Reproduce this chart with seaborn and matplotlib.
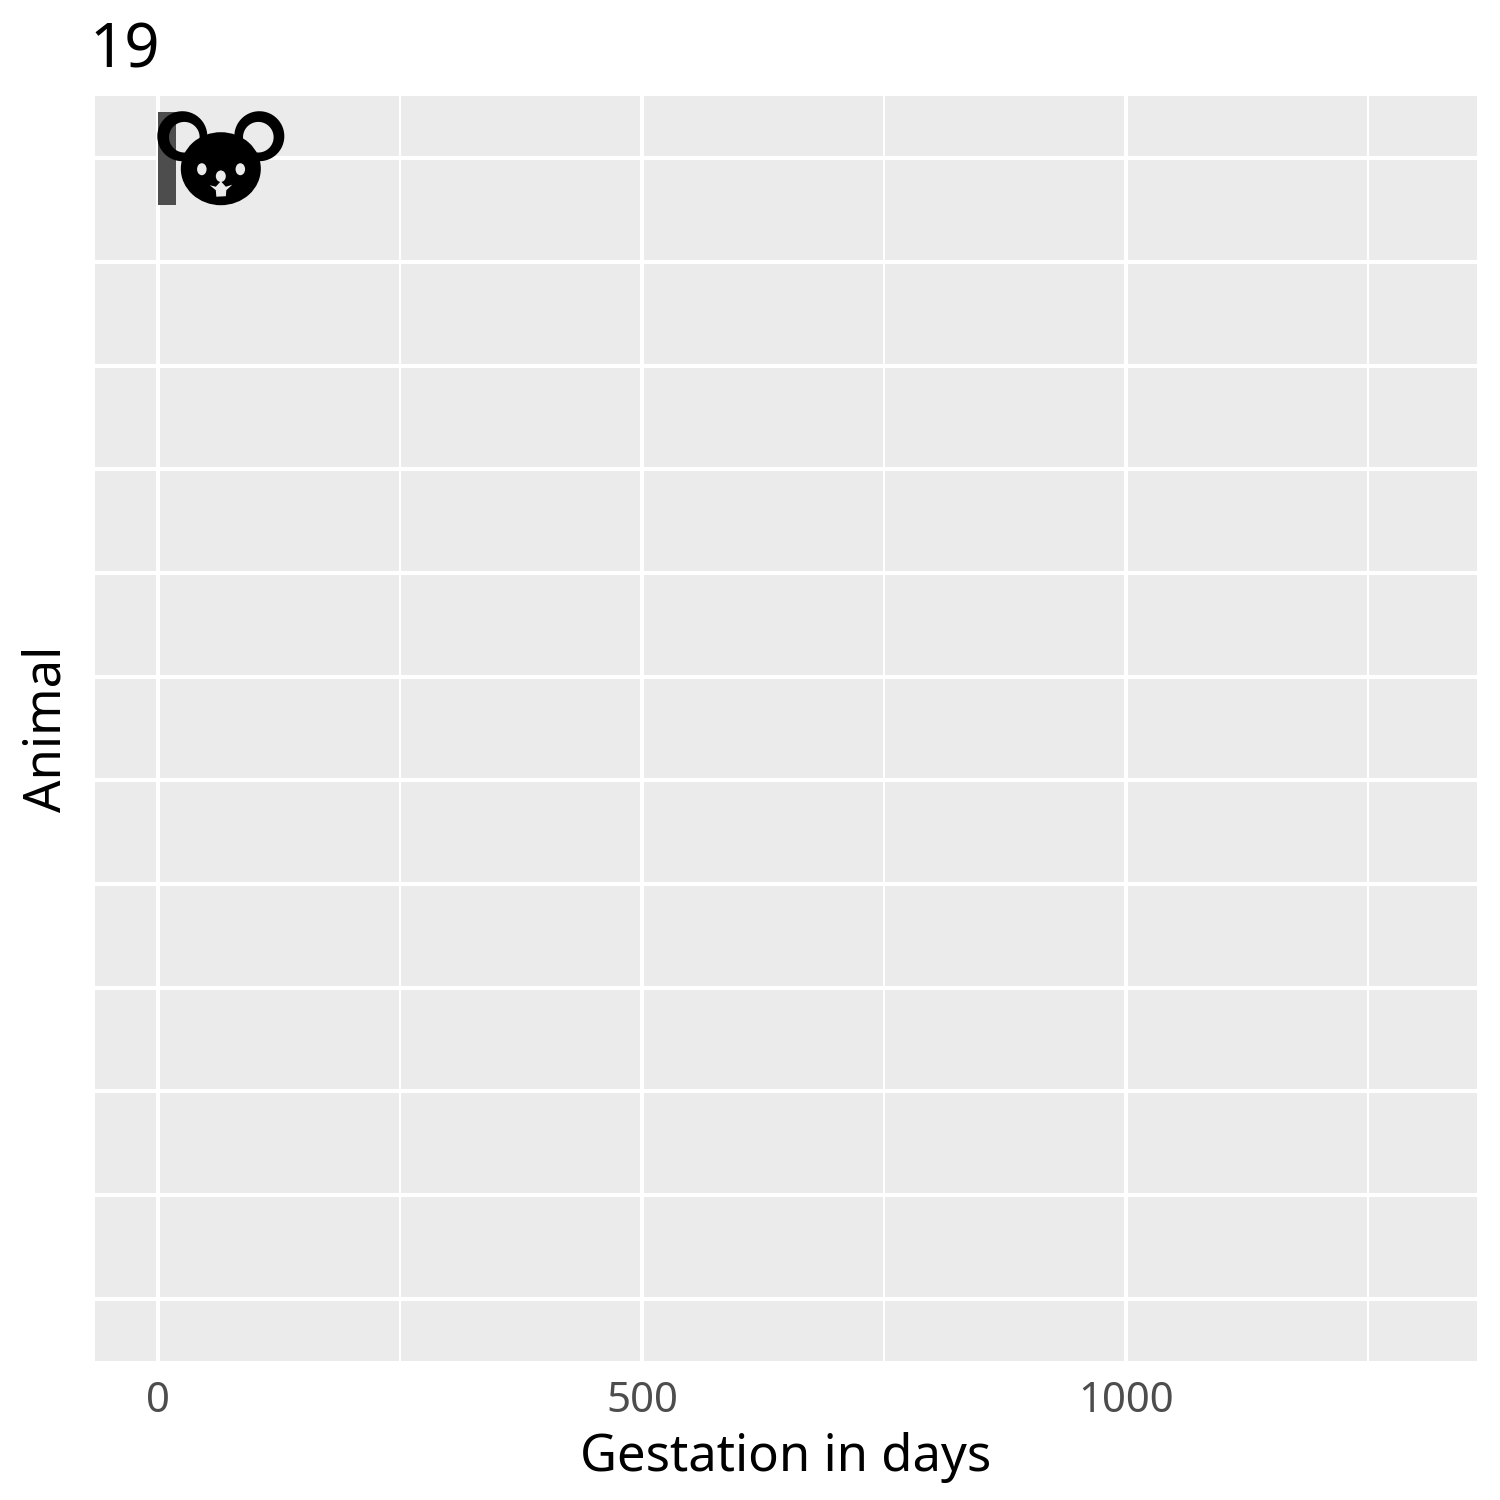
import numpy as np
import pandas as pd
import matplotlib.pyplot as plt
import seaborn as sns
from matplotlib.patches import Ellipse, PathPatch, Polygon
from matplotlib.path import Path
from matplotlib.transforms import Affine2D

# only the first animal has reached its frame, the other rows are still empty
animals = ['mouse', 'animal 2', 'animal 3', 'animal 4', 'animal 5', 'animal 6',
           'animal 7', 'animal 8', 'animal 9', 'animal 10', 'animal 11', 'animal 12']
gestation = [19, np.nan, np.nan, np.nan, np.nan, np.nan,
             np.nan, np.nan, np.nan, np.nan, np.nan, np.nan]
frame_label = '19'
major_ticks = [0, 500, 1000]
minor_ticks = [250, 750, 1250]

sns.set_theme(style='darkgrid')
plt.rcParams['font.family'] = ['Noto Sans', 'DejaVu Sans']

df = pd.DataFrame({'animal': animals, 'gestation': gestation})
panel = '#ebebeb'


# ring with a real hole, so the bar shows through the ear
def ear_ring(outer_x, outer_y, outer_r, inner_x, inner_y, inner_r):
    t = np.linspace(0, 2 * np.pi, 80)
    outer = np.column_stack([outer_x + outer_r * np.cos(t), outer_y + outer_r * np.sin(t)])
    inner = np.column_stack([inner_x + inner_r * np.cos(t[::-1]), inner_y + inner_r * np.sin(t[::-1])])
    codes = [Path.MOVETO] + [Path.LINETO] * 79
    return Path(np.vstack([outer, inner]), codes + codes)


# the mouse icon hangs off the end of the bar, offsets in pixels from there
def draw_mouse(ax, value, row):
    tr = Affine2D().scale(1, -1).translate(*ax.transData.transform((value, row)))
    parts = [
        PathPatch(ear_ring(6, -22, 25, 8, -21, 15.3), fc='black', lw=0),
        PathPatch(ear_ring(83, -22, 25, 82, -21, 15.3), fc='black', lw=0),
        Ellipse((44.5, 10.5), 80, 73, fc='black', lw=0),
        Ellipse((25.5, 11), 9.5, 12, fc=panel, lw=0),
        Ellipse((64, 11), 9.5, 12, fc=panel, lw=0),
        Ellipse((44.5, 18), 10, 11.5, fc=panel, lw=0),
        Polygon([(33.5, 27), (39.5, 28.5), (44.5, 23), (49.5, 28.5), (56, 26.5),
                 (50, 32), (49.5, 38), (40, 38.5), (39.5, 32)], fc=panel, lw=0),
    ]
    for p in parts:
        p.set_transform(tr)
        p.set_zorder(4)
        ax.add_artist(p)


W = H = 1500
fig = plt.figure(figsize=(5, 5), dpi=300, facecolor='white')
ax = fig.add_axes([95 / W, 1 - 1361 / H, (1477 - 95) / W, (1361 - 96) / H])
ax.set_facecolor(panel)

sns.barplot(data=df, x='gestation', y='animal', order=animals, color='#4d4d4d',
            saturation=1, width=0.9, ax=ax, zorder=3, errorbar=None, linewidth=0)

ax.set_xlim(-65, 1362.6)
ax.set_ylim(11.6, -0.6)
ax.set_xticks(major_ticks)
ax.set_xticks(minor_ticks, minor=True)
ax.set_xticklabels([str(t) for t in major_ticks], fontsize=10.1, color='#4d4d4d')
ax.set_yticks(range(len(animals)))
ax.set_yticklabels([])
ax.tick_params(axis='both', which='both', length=0)
ax.tick_params(axis='x', pad=4.5)

ax.grid(True, which='major', color='white', linewidth=0.96, zorder=1)
ax.grid(True, which='minor', axis='x', color='white', linewidth=0.48, zorder=1)
ax.set_axisbelow(True)
for s in ax.spines.values():
    s.set_visible(False)

ax.set_xlabel('Gestation in days', fontsize=12.2, color='black', labelpad=2.5)
ax.set_ylabel('Animal', fontsize=12.2, color='black', labelpad=2)
draw_mouse(ax, gestation[0], 0)
fig.text(89 / W, 1 - 51 / H, frame_label, fontsize=14.8, color='black', ha='left', va='center')

fig.savefig('out.png', dpi=300)
